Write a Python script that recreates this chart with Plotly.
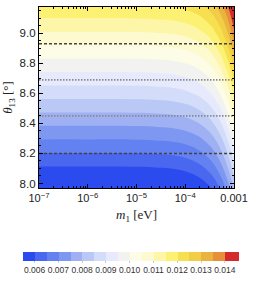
import numpy as np
import plotly.graph_objects as go

# theta_13 samples (deg) and value at the smallest m1 (left edge)
theta_deg = [7.97, 8.2, 8.4, 8.6, 8.8, 9.0, 9.175]
value_at_min_m1 = [0.00520, 0.00648, 0.00759, 0.00871, 0.00982, 0.01094, 0.01191]

# m1 samples (eV) and increase of the value relative to the left edge
m1_eV = [1e-7, 1e-6, 1e-5, 3.16e-5, 5.62e-5, 1e-4, 1.78e-4, 2.37e-4,
         3.16e-4, 4.22e-4, 5.62e-4, 7.50e-4, 8.66e-4, 1e-3]
increase = [0.0, 0.0, 0.00001, 0.00005, 0.00009, 0.00018, 0.00037, 0.00052,
            0.00073, 0.00103, 0.00145, 0.00205, 0.00244, 0.00290]

# reference lines for theta_13 (3 sigma dashed, 1 sigma dotted)
theta_3sigma = [8.20, 8.93]
theta_1sigma = [8.45, 8.69]

bin_colors = ["#2c4bef", "#4a67f0", "#6381f1", "#7e98f1", "#9fb1f3", "#bac8f6",
              "#d3dcf9", "#e6eafc", "#f2f3f1", "#fdfce6", "#fefad0", "#fdf5a8",
              "#fcf172", "#f6e050", "#f2cd46", "#eab33f", "#e6913a", "#d6292b"]
cbar_ticks = [0.006, 0.007, 0.008, 0.009, 0.010, 0.011, 0.012, 0.013, 0.014]

x_ticks = [1e-7, 1e-6, 1e-5, 1e-4, 1e-3]
x_ticktext = ["10<sup>−7</sup>", "10<sup>−6</sup>", "10<sup>−5</sup>", "10<sup>−4</sup>", "0.001"]

z = np.add.outer(np.array(value_at_min_m1), np.array(increase))

n = len(bin_colors)
colorscale = []
for i, c in enumerate(bin_colors):
    colorscale.append([i / n, c])
    colorscale.append([(i + 1) / n, c])

fig = go.Figure()
fig.add_trace(go.Contour(
    x=m1_eV, y=theta_deg, z=z,
    colorscale=colorscale, zmin=0.0055, zmax=0.0145,
    contours=dict(start=0.0055, end=0.0145, size=0.0005, coloring="fill"),
    line=dict(width=0, smoothing=1.3),
    colorbar=dict(orientation="h", thickness=9, len=234, lenmode="pixels",
                  x=0.465, xanchor="center", y=-0.2985, yanchor="top",
                  outlinewidth=0, tickvals=cbar_ticks,
                  ticktext=[f"{v:.3f}" for v in cbar_ticks], tickangle=0,
                  tickfont=dict(family="Liberation Sans", size=8.5, color="#333"),
                  ticks="outside", ticklen=2, tickcolor="#cccccc"),
    hoverinfo="skip",
))

for t in theta_3sigma:
    fig.add_trace(go.Scatter(x=[1e-7, 1e-3], y=[t, t], mode="lines",
                             line=dict(color="#444444", width=1.6, dash="3px,2px"),
                             showlegend=False, hoverinfo="skip"))
for t in theta_1sigma:
    fig.add_trace(go.Scatter(x=[1e-7, 1e-3], y=[t, t], mode="lines",
                             line=dict(color="#8a8a8a", width=1.6, dash="1.5px,1.5px"),
                             showlegend=False, hoverinfo="skip"))

minor_x = [k * 10.0 ** d for d in range(-7, -3) for k in range(2, 10)]

fig.update_layout(
    width=254, height=291,
    margin=dict(l=38, r=16, t=6, b=84),
    paper_bgcolor="white", plot_bgcolor="white",
    showlegend=False,
    xaxis=dict(type="log", range=[-7, -3], tickvals=x_ticks, ticktext=x_ticktext,
               ticks="inside", ticklen=4, tickcolor="black", mirror="allticks",
               showline=True, linecolor="black", linewidth=1.2, showgrid=False,
               zeroline=False, ticklabeloverflow="allow",
               tickfont=dict(family="Liberation Sans", size=11, color="#222"),
               minor=dict(tickvals=minor_x, ticks="inside", ticklen=2, tickcolor="black"),
               title=dict(text="<i>m</i><sub>1</sub> [eV]", standoff=6,
                          font=dict(family="Liberation Serif", size=13, color="#222"))),
    yaxis=dict(range=[7.97, 9.175], dtick=0.2, tick0=8.0, tickformat=".1f",
               ticks="inside", ticklen=4, tickcolor="black", mirror="allticks",
               showline=True, linecolor="black", linewidth=1.2, showgrid=False,
               zeroline=False,
               tickfont=dict(family="Liberation Sans", size=11.5, color="#222"),
               minor=dict(dtick=0.05, tick0=8.0, ticks="inside", ticklen=2, tickcolor="black"),
               title=dict(text="<i>θ</i><sub>13</sub> [°]", standoff=4,
                          font=dict(family="Liberation Serif", size=13, color="#222"))),
)

fig.write_html("out.html", config={"displayModeBar": False},
               post_script="document.body.style.margin='0px';")
